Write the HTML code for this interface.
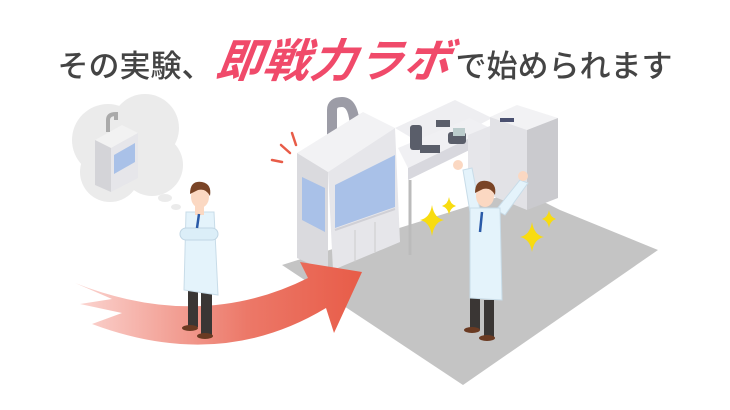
<!DOCTYPE html>
<html><head><meta charset="utf-8"><style>
html,body{margin:0;padding:0;background:#fff;width:730px;height:410px;overflow:hidden}
.t{position:absolute;top:25px;left:0;width:730px;text-align:center;font-family:"Liberation Sans","Noto Sans CJK JP",sans-serif;white-space:nowrap}
.a{font-size:31px;color:#444;font-weight:500}
.b{font-size:46px;color:#f04a6a;font-weight:bold;font-style:italic;display:inline-block;transform:skewX(-8deg);letter-spacing:1px;margin:0 4px}
</style></head><body>
<div class="t"><span class="a">その実験、</span><span class="b">即戦力ラボ</span><span class="a">で始められます</span></div>
<svg width="730" height="410" style="position:absolute;left:0;top:0">
<defs><linearGradient id="g" x1="0" x2="1"><stop offset="0" stop-color="#fbd6d2"/><stop offset="0.6" stop-color="#ec7868"/><stop offset="1" stop-color="#e85c48"/></linearGradient></defs>
<polygon points="282,265 520,190 560,210 658,250 463,385" fill="#c4c4c4"/>
<g fill="#ebebeb"><circle cx="108" cy="140" r="36"/><circle cx="145" cy="128" r="34"/><circle cx="152" cy="165" r="31"/><circle cx="110" cy="172" r="30"/><circle cx="130" cy="150" r="36"/>
<ellipse cx="165" cy="198" rx="7" ry="4"/><ellipse cx="176" cy="207" rx="5" ry="3"/></g>
<g><polygon points="95,140 122,125 138,133 111,148" fill="#f2f2f2"/><polygon points="95,140 111,148 111,192 95,185" fill="#d4d4d8"/><polygon points="111,148 138,133 138,178 111,192" fill="#e6e6ea"/><polygon points="114,155 135,143 135,162 114,174" fill="#a9c1e8"/><path d="M108,132 v-12 q0,-6 8,-6 v6" stroke="#aaa" stroke-width="4" fill="none"/></g>
<g stroke="#e85c48" stroke-width="2.5" stroke-linecap="round"><line x1="292" y1="133" x2="296" y2="145"/><line x1="281" y1="145" x2="290" y2="153"/><line x1="272" y1="160" x2="282" y2="162"/></g>
<polygon points="395,128 455,100 492,118 432,150" fill="#eeeef1"/>
<polygon points="398,148 470,118 490,128 408,168" fill="#f0f0f3"/>
<polygon points="408,168 490,128 490,140 408,180" fill="#d8d8de"/>
<polygon points="468,135 490,126 490,190 468,200" fill="#e6e6ea"/>
<line x1="410" y1="180" x2="410" y2="255" stroke="#bbb" stroke-width="3"/>
<g fill="#5a5e6a"><rect x="410" y="125" width="12" height="25" rx="3"/><rect x="420" y="145" width="20" height="8"/><rect x="448" y="132" width="18" height="12" rx="3"/><rect x="436" y="120" width="14" height="7"/></g>
<rect x="453" y="128" width="12" height="8" fill="#bcc"/>
<polygon points="490,117 517,105 558,118 527,130" fill="#f2f2f4"/>
<polygon points="490,117 527,130 527,210 490,195" fill="#e2e2e6"/>
<polygon points="527,130 558,118 558,198 527,210" fill="#cacace"/>
<rect x="500" y="118" width="14" height="4" fill="#4a5070"/>
<path d="M332,138 v-28 q0,-8 10,-8 q13,0 13,30" stroke="#9c9ca6" stroke-width="10" fill="none"/>
<polygon points="297,153 363,112 395,128 328,172" fill="#f2f2f4"/>
<polygon points="297,153 328,172 328,272 297,258" fill="#dadade"/>
<polygon points="328,172 395,128 400,242 333,270" fill="#e6e6ea"/>
<polygon points="302,177 325,188 325,232 302,220" fill="#a9c1e8"/>
<polygon points="335,185 395,155 395,207 335,228" fill="#a9c1e8"/>
<line x1="335" y1="230" x2="395" y2="209" stroke="#d0d0d6" stroke-width="2"/>
<line x1="355" y1="230" x2="355" y2="262" stroke="#ccc"/><line x1="375" y1="222" x2="375" y2="252" stroke="#ccc"/>
<path d="M75,283 Q200,332 308,278 L300,262 L362,272 L334,333 L326,308 Q220,372 92,324 L122,313 L80,304 L112,299 Z" fill="url(#g)"/>
<g><rect x="188" y="282" width="10" height="45" fill="#3a3634"/><rect x="201" y="290" width="11" height="45" fill="#3a3634"/>
<ellipse cx="190" cy="328" rx="8" ry="3" fill="#6a3a22"/><ellipse cx="205" cy="336" rx="8" ry="3" fill="#6a3a22"/>
<polygon points="186,212 214,212 218,295 184,290" fill="#e4f3fb" stroke="#c8dce8"/>
<rect x="180" y="228" width="38" height="12" rx="6" fill="#dbeef8" stroke="#c0d6e4"/>
<rect x="195" y="205" width="9" height="10" fill="#fbd8c2"/>
<ellipse cx="200" cy="197" rx="9" ry="11" fill="#fbd8c2"/><path d="M190,194 q0,-14 12,-12 q10,2 8,14 q-4,-8 -12,-6 z" fill="#7a4426"/>
<line x1="199" y1="214" x2="197" y2="228" stroke="#2a5aa8" stroke-width="2.5"/></g>
<g><rect x="470" y="295" width="10" height="35" fill="#3a3634"/><rect x="484" y="300" width="10" height="37" fill="#3a3634"/>
<ellipse cx="472" cy="330" rx="8" ry="3" fill="#6a3a22"/><ellipse cx="487" cy="338" rx="8" ry="3" fill="#6a3a22"/>
<polygon points="463,170 472,168 480,210 470,212" fill="#e4f3fb" stroke="#c8dce8"/>
<polygon points="520,180 528,183 505,215 496,210" fill="#e4f3fb" stroke="#c8dce8"/>
<circle cx="458" cy="165" r="5" fill="#fbd8c2"/><circle cx="523" cy="176" r="5" fill="#fbd8c2"/>
<polygon points="470,208 500,208 502,300 470,298" fill="#e4f3fb" stroke="#c8dce8"/>
<ellipse cx="485" cy="196" rx="9" ry="11" fill="#fbd8c2"/><path d="M475,193 q0,-14 12,-12 q10,2 8,14 q-4,-8 -12,-6 z" fill="#7a4426"/>
<line x1="482" y1="212" x2="480" y2="232" stroke="#2a5aa8" stroke-width="2.5"/></g>
<g fill="#f8dc10">
<path d="M432,205 Q434,218 444,220 Q434,222 432,236 Q430,222 420,220 Q430,218 432,205Z"/>
<path d="M449,197 Q450,204 456,206 Q450,208 449,215 Q448,208 442,206 Q448,204 449,197Z"/>
<path d="M532,222 Q534,235 544,237 Q534,239 532,252 Q530,239 520,237 Q530,235 532,222Z"/>
<path d="M549,210 Q550,217 556,219 Q550,221 549,228 Q548,221 542,219 Q548,217 549,210Z"/></g>
</svg>
</body></html>
